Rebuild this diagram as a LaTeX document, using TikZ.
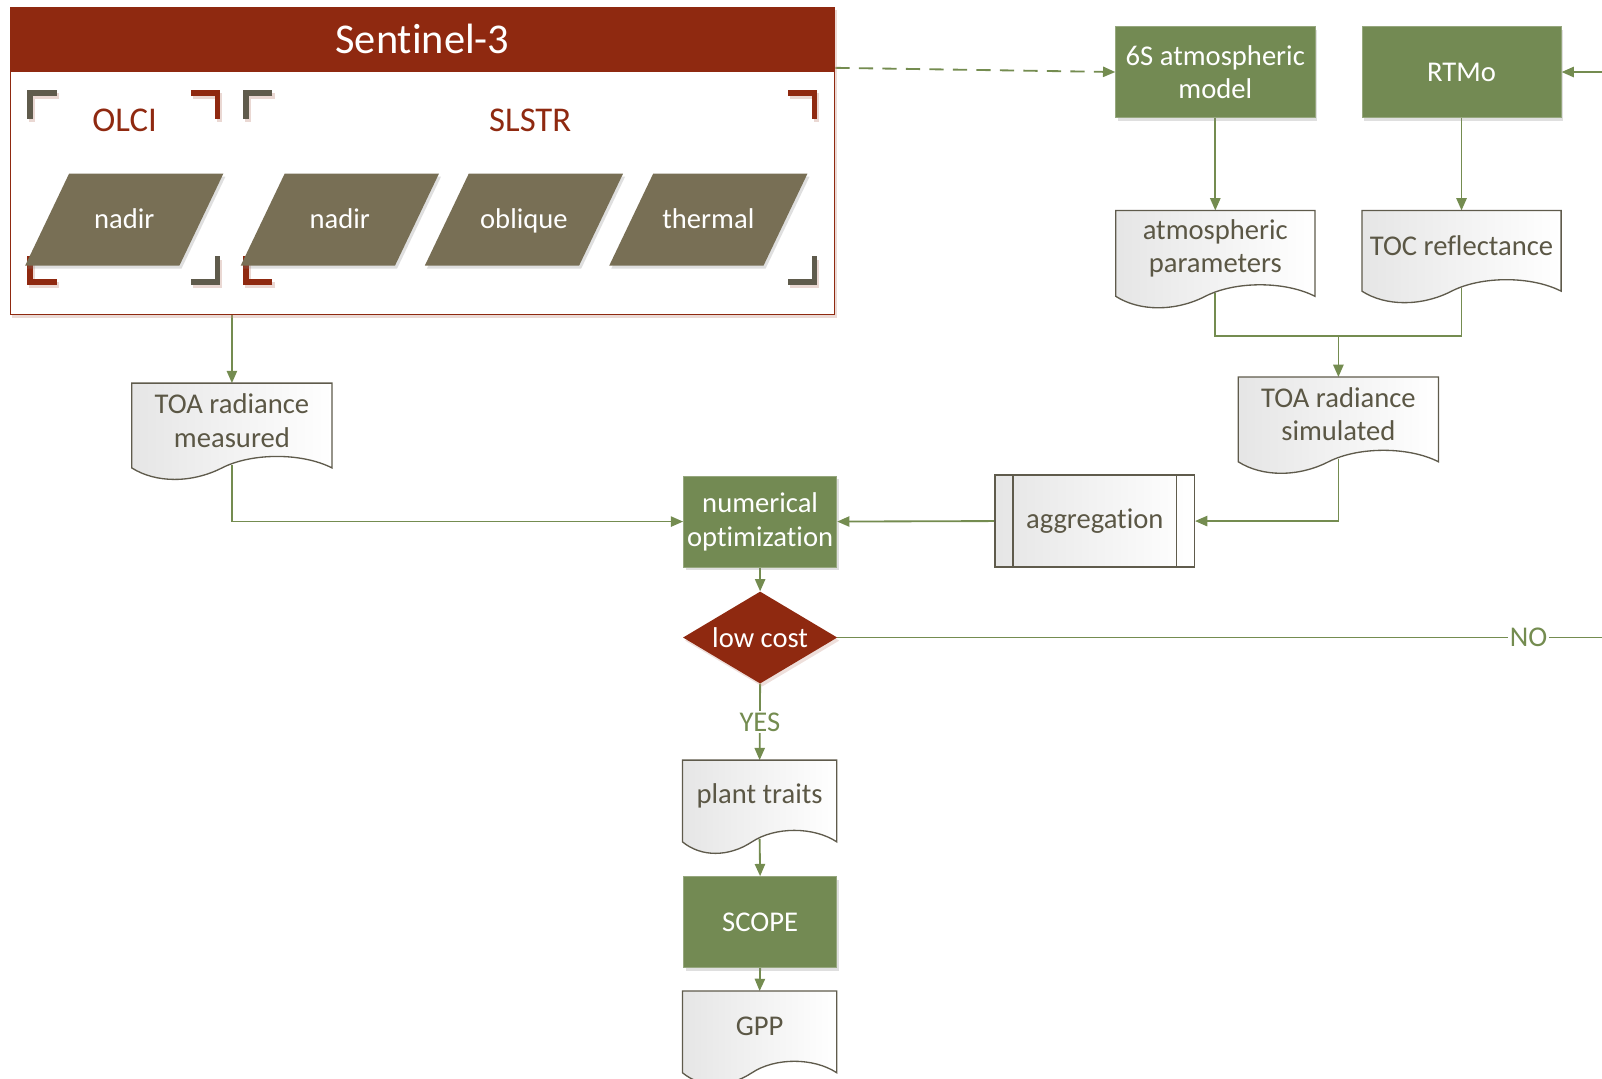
\documentclass[tikz,border=0pt]{standalone}
\usepackage{fontspec}
\setmainfont{Carlito}[RawFeature=-liga]
\usetikzlibrary{arrows.meta,shadows,shapes.geometric}
\pgfdeclarelayer{bg}
\pgfsetlayers{bg,main}
\definecolor{sred}{HTML}{8F2910}
\definecolor{sgreen}{HTML}{738A53}
\definecolor{lgreen}{HTML}{748C50}
\definecolor{pgray}{HTML}{786F55}
\definecolor{dtext}{HTML}{5B5745}
\definecolor{bgray}{HTML}{5F5B4C}
\tikzset{
  conn/.style={draw=lgreen, line width=1.8pt, -{Triangle[length=12pt,width=10pt]}},
  plain/.style={draw=lgreen, line width=1.8pt},
  bodyfont/.style={font=\fontsize{28}{33}\selectfont},
  greenbox/.style={fill=sgreen, draw=sgreen!75!white, line width=0.8pt, text=white, inner sep=0pt,
    bodyfont, align=center, drop shadow={opacity=0.25, shadow xshift=2pt, shadow yshift=-3pt}},
  docstyle/.style={draw=bgray, line width=1.3pt, left color=black!10, right color=white},
  doctext/.style={text=dtext, bodyfont, align=center, inner sep=0pt},
  paratext/.style={text=white, bodyfont, inner sep=0pt, anchor=base},
  lbl/.style={fill=white, text=lgreen, bodyfont, inner sep=2pt},
  sentbox/.style={draw=sred, line width=1.2pt, fill=white, inner sep=0pt,
    drop shadow={opacity=0.35, fill=sred!50, shadow xshift=2pt, shadow yshift=-3pt}},
}
\newcommand\docshape[6]{%
  \path[docstyle] (#2,#3) -- (#4,#3) -- (#4,#5)
    .. controls ({#2+0.85*(#4-#2)},{#5-15}) and ({#2+0.6*(#4-#2)},{#5-15}) .. ({#2+0.45*(#4-#2)},#5)
    .. controls ({#2+0.3*(#4-#2)},{#5+15}) and ({#2+0.12*(#4-#2)},{#5+15}) .. (#2,#5) -- cycle;
  \node[doctext] (#1) at ({(#2+#4)/2},{(#3+#5)/2-5}) {#6};
  \coordinate (#1-t) at ({(#2+#4)/2},#3);
  \coordinate (#1-b) at ({(#2+#4)/2},{#5-3});
}
\newcommand\brk[5]{%
  \draw[sred!30, opacity=0.6, line width=5.5pt] ({#1+#3*26+2},{#2+3}) -- ({#1+2},{#2+3}) -- ({#1+2},{#2+#4*25+3});
  \draw[#5, line width=5.5pt] ({#1+#3*26},#2) -- (#1,#2) -- (#1,{#2+#4*25});}
\newcommand\para[3]{%
  \fill[pgray, drop shadow={opacity=0.25, shadow xshift=2pt, shadow yshift=-3pt}]
    ({#2-54},170) -- ({#2+97},170) -- ({#2+54},260) -- ({#2-97},260) -- cycle;
  \node[paratext] (#1) at (#2,224) {#3};}
\begin{document}
\begin{tikzpicture}[x=1pt,y=-1pt]
\useasboundingbox (0,0) rectangle (1568,1056);
% Sentinel-3 box
\node[sentbox, minimum width=807, minimum height=301] (sent) at (413.5,157.5) {};
\fill[sred] (10,7) rectangle (817,70);
\node[text=white, font=\fontsize{41.5}{48}\selectfont, inner sep=0pt] (senttitle) at (413.5,38.5) {Sentinel-3};
\node[text=sred, font=\fontsize{34}{40}\selectfont, inner sep=0pt] (olci) at (122,118) {OLCI};
\node[text=sred, font=\fontsize{34}{40}\selectfont, inner sep=0pt] (slstr) at (519,118) {SLSTR};
\brk{29.5}{91}{1}{1}{bgray}
\brk{213}{91}{-1}{1}{sred}
\brk{29.5}{276}{1}{-1}{sred}
\brk{213}{276}{-1}{-1}{bgray}
\brk{240.7}{91}{1}{1}{bgray}
\brk{797.3}{91}{-1}{1}{sred}
\brk{240.7}{276}{1}{-1}{sred}
\brk{797.3}{276}{-1}{-1}{bgray}
\para{onadir}{121.6}{nadir}
\para{snadir}{332.6}{nadir}
\para{oblique}{512.8}{oblique}
\para{thermal}{693.3}{thermal}
% green process boxes
\node[greenbox, minimum width=195, minimum height=89] (sixs) at (1189.5,70.5) {6S atmospheric\\model};
\node[greenbox, minimum width=195, minimum height=89] (rtmo) at (1430.5,70.5) {RTMo};
\node[greenbox, minimum width=150, minimum height=89] (numopt) at (744,510.5) {numerical\\optimization};
\node[greenbox, minimum width=150, minimum height=89] (scope) at (744,902.5) {SCOPE};
% documents
\docshape{atm}{1092}{206}{1287}{290}{atmospheric\\parameters}
\docshape{toc}{1333}{206}{1528}{285}{TOC reflectance}
\docshape{toas}{1212}{369}{1408}{452}{TOA radiance\\simulated}
\docshape{toam}{129}{375}{325}{458}{TOA radiance\\measured}
\docshape{plant}{668}{744}{819}{824}{plant traits}
\docshape{gpp}{668}{970}{819}{1050}{GPP}
% aggregation
\node[docstyle, text=dtext, bodyfont, inner sep=0pt, minimum width=195, minimum height=90] (agg) at (1071.5,510) {aggregation};
\draw[bgray, line width=1.3pt] ([xshift=18pt]agg.north west) -- ([xshift=18pt]agg.south west);
\draw[bgray, line width=1.3pt] ([xshift=-18pt]agg.north east) -- ([xshift=-18pt]agg.south east);
% decision
\node[diamond, fill=sred, aspect=1.68, minimum width=151, minimum height=90, inner sep=0pt, text=white, bodyfont,
  drop shadow={opacity=0.3, fill=sred!50, shadow xshift=2pt, shadow yshift=-3pt}] (cost) at (744,624) {low cost};
\coordinate (join) at (1310,329);
\coordinate (loopout) at (1568,624);
\coordinate (loopin) at (1568,70.5);
\begin{pgfonlayer}{bg}
\draw[conn] (sent.south -| toam-t) -- (toam-t);
\draw[conn] (toam-b) |- (numopt.west);
\draw[conn, dash pattern=on 14pt off 9pt] ([yshift=-60pt]sent.north east) -- (sixs.west);
\draw[conn] (sixs.south) -- (atm-t);
\draw[conn] (rtmo.south) -- (toc-t);
\draw[plain] (atm-b) |- (join) -| (toc-b);
\draw[conn] (join) -- (toas-t);
\draw[conn] (toas-b) |- (agg.east);
\draw[conn] (agg.west) -- (numopt.east);
\draw[conn] (numopt.south) -- (cost.north);
\draw[plain] (cost.east) -- node[lbl, pos=0.904] (nolbl) {NO} (loopout);
\draw[conn] (loopin) -- (rtmo.east);
\draw[conn] (cost.south) -- node[lbl] (yeslbl) {YES} (plant-t);
\draw[conn] (plant-b) -- (scope.north);
\draw[conn] (scope.south) -- (gpp-t);
\end{pgfonlayer}
\end{tikzpicture}
\end{document}
